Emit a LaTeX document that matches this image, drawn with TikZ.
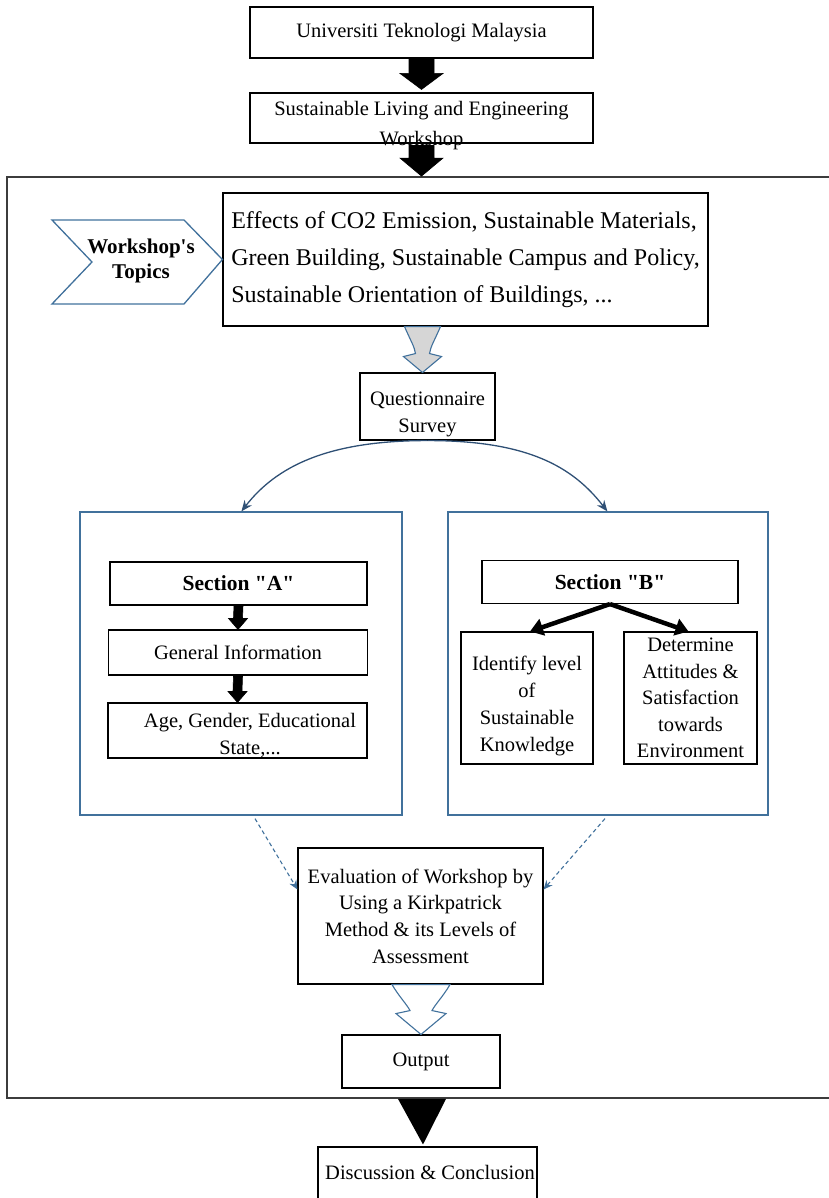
\documentclass[tikz,border=0pt]{standalone}
\usepackage{fontspec}
\setmainfont{Liberation Serif}[Ligatures=TeXOff]
\usetikzlibrary{calc,arrows.meta}
\definecolor{panelblue}{HTML}{41719C}
\definecolor{arcblue}{HTML}{2F5075}
\definecolor{framegray}{HTML}{3C3C3C}
\definecolor{arrowgray}{HTML}{D6D6D6}
\begin{document}
\begin{tikzpicture}[x=1pt,y=-1pt,
  box/.style={draw=black,line width=1.1pt,inner sep=0pt,align=center,
     font=\fontsize{20.5}{27}\selectfont},
  txt/.style={inner sep=0pt,align=center,font=\fontsize{20.5}{27}\selectfont},
  boldfont/.style={font=\fontsize{21.5}{25}\selectfont\bfseries},
  panel/.style={draw=panelblue,line width=1.2pt,inner sep=0pt},
  solidarrow/.style={fill=black,draw=black,line width=0.6pt,line join=miter},
  hollowarrow/.style={draw=panelblue,line width=1.1pt,line join=miter},
  curvearrow/.style={draw=arcblue,line width=1.3pt,-{Stealth[length=11pt,width=9pt]}},
  dasharrow/.style={draw=panelblue,line width=1.1pt,dash pattern=on 4pt off 3pt,-{Stealth[length=9pt,width=8pt]}},
  thickarrow/.style={draw=black,line width=4.5pt,-{Triangle[length=13pt,width=17pt]}},
]
\useasboundingbox (0,0) rectangle (828,1198);

% outer frame
\node[draw=framegray,line width=1.8pt,inner sep=0pt,minimum width=833pt,minimum height=921pt] (fr) at (423.5,637.5) {};

% top boxes
\node[box,minimum width=343pt,minimum height=51pt] (b1) at (421.5,32.5) {Universiti Teknologi Malaysia};
\node[box,minimum width=343pt,minimum height=50pt] (b2) at (421.5,118) {};

% block arrows at top
\draw[solidarrow] ($(b1.south)+(-12.5,0)$) -- ($(b2.north)+(-12.5,-19)$) -- ($(b2.north)+(-21.5,-19)$)
  -- ($(b2.north)+(0,-3)$) -- ($(b2.north)+(21.5,-19)$) -- ($(b2.north)+(12.5,-19)$) -- ($(b1.south)+(12.5,0)$) -- cycle;
\draw[solidarrow] ($(b2.south)+(-12.5,2)$) -- ($(b2.south |- fr.north)+(-12.5,-18)$) -- ($(b2.south |- fr.north)+(-21.5,-18)$)
  -- (b2.south |- fr.north) -- ($(b2.south |- fr.north)+(21.5,-18)$) -- ($(b2.south |- fr.north)+(12.5,-18)$) -- ($(b2.south)+(12.5,2)$) -- cycle;
\node[txt,font=\fontsize{20.5}{30}\selectfont] (b2t) at (421.5,126) {Sustainable Living and Engineering\\Workshop};

% topics
\node[box,minimum width=485pt,minimum height=133pt,font=\fontsize{24}{37}\selectfont,align=left] (tb) at (465.5,259.5)
  {Effects of CO2 Emission, Sustainable Materials,\\Green Building, Sustainable Campus and Policy,\\Sustainable Orientation of Buildings, ...};
\draw[draw=panelblue,line width=1.3pt,line join=miter] (52,220) -- (184,220) -- (tb.west) -- (184,304) -- (52,304) -- (92,262) -- cycle;
\node[txt,font=\fontsize{21}{25}\selectfont\bfseries] (wt) at (141,261) {Workshop's\\Topics};

% questionnaire
\node[box,minimum width=135pt,minimum height=67pt] (q) at (427.5,406.5) {};
\node[txt] (qt) at (427.5,414) {Questionnaire\\Survey};

\coordinate (g1tip) at ($(q.north)+(-5,0)$);
\coordinate (g1top) at (g1tip |- tb.south);
\filldraw[hollowarrow,fill=arrowgray] ($(g1top)+(-18,0)$) .. controls ($(g1top)+(-12,14)$) and ($(g1top)+(-8,20)$) .. ($(g1top)+(-7,27)$)
  -- ($(g1top)+(-19,30)$) -- (g1tip) -- ($(g1top)+(19,30)$) -- ($(g1top)+(7,27)$)
  .. controls ($(g1top)+(8,20)$) and ($(g1top)+(12,14)$) .. ($(g1top)+(18,0)$) -- cycle;

% panels
\node[panel,minimum width=322pt,minimum height=303pt] (pA) at (241,663.5) {};
\node[panel,minimum width=320pt,minimum height=303pt] (pB) at (608,663.5) {};

\draw[curvearrow] (q.south) .. controls +(-100,0) and +(35,-45) .. ($(pA.north west)+(162,0)$);
\draw[curvearrow] (q.south) .. controls +(100,0) and +(-35,-45) .. ($(pB.north west)+(160,0)$);

% section A
\node[box,boldfont,minimum width=257pt,minimum height=43pt] (sA) at (238.5,583.5) {Section "A"};
\node[box,minimum width=259pt,minimum height=45pt] (gi) at (238,652.5) {General Information};
\node[box,minimum width=259pt,minimum height=55pt] (ag) at (237.5,730.5) {};
\node[txt] (agt) at (250,735) {Age, Gender, Educational\\State,...};

\draw[solidarrow] ($(sA.south)+(-4.5,0)$) -- ($(gi.north)+(-4.5,-11)$) -- ($(gi.north)+(-9.5,-11)$) -- (gi.north)
  -- ($(gi.north)+(9.5,-11)$) -- ($(gi.north)+(4.5,-11)$) -- ($(sA.south)+(4.5,0)$) -- cycle;
\draw[solidarrow] ($(gi.south)+(-4.5,0)$) -- ($(ag.north)+(-4.5,-11)$) -- ($(ag.north)+(-9.5,-11)$) -- (ag.north)
  -- ($(ag.north)+(9.5,-11)$) -- ($(ag.north)+(4.5,-11)$) -- ($(gi.south)+(4.5,0)$) -- cycle;

% section B
\node[box,boldfont,minimum width=256pt,minimum height=43pt] (sB) at (610,582) {Section "B"};
\node[box,minimum width=132pt,minimum height=132pt] (id) at (527,698) {};
\node[txt] (idt) at (527,706) {Identify level\\of\\Sustainable\\Knowledge};
\node[box,minimum width=133pt,minimum height=132pt,font=\fontsize{20.5}{26.5}\selectfont] (de) at (690.5,698)
  {Determine\\Attitudes \&\\Satisfaction\\towards\\Environment};
\draw[thickarrow] (sB.south) -- ($(id.north)+(3,0)$);
\draw[thickarrow] (sB.south) -- ($(de.north)+(-2,0)$);

% evaluation
\node[box,minimum width=245pt,minimum height=136pt,font=\fontsize{20.5}{26.7}\selectfont] (ev) at (420.5,916)
  {Evaluation of Workshop by\\Using a Kirkpatrick\\Method \& its Levels of\\Assessment};
\draw[dasharrow] ($(pA.south)+(14,3)$) -- ($(ev.north west)+(0,42)$);
\draw[dasharrow] ($(pB.south)+(-3,3)$) -- ($(ev.north east)+(0,42)$);

% output
\node[box,minimum width=158pt,minimum height=53pt] (ou) at (421,1061.5) {Output};
\coordinate (g2top) at (ev.south -| ou.north);
\draw[hollowarrow,fill=white] ($(g2top)+(-29,0)$) .. controls ($(g2top)+(-22,12)$) and ($(g2top)+(-14,20)$) .. ($(g2top)+(-11,26)$)
  -- ($(g2top)+(-25,29)$) -- (ou.north) -- ($(g2top)+(25,29)$) -- ($(g2top)+(11,26)$)
  .. controls ($(g2top)+(14,20)$) and ($(g2top)+(22,12)$) .. ($(g2top)+(29,0)$) -- cycle;

% discussion
\node[box,minimum width=219pt,minimum height=66pt] (dc) at (427.5,1180) {};
\node[txt] (dct) at (430,1172) {Discussion \& Conclusion};
\fill[black] ($(ou.south |- fr.south)+(-23,0)$) -- ($(ou.south |- fr.south)+(25,0)$) -- ($(ou.south |- dc.north)+(2,-2)$) -- cycle;
\end{tikzpicture}
\end{document}
